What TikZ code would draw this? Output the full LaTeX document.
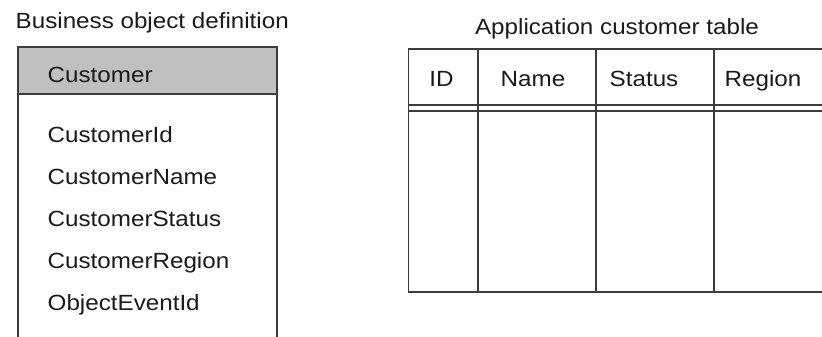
\documentclass[tikz,border=0pt]{standalone}
\usepackage{fontspec}
\setmainfont{Liberation Sans}[FakeStretch=1.1]
\usepackage{tikz}
\definecolor{hdrgray}{RGB}{192,192,192}
\definecolor{linegray}{RGB}{60,60,60}
\definecolor{textgray}{RGB}{26,26,26}
\tikzset{
  txt/.style={anchor=base west,inner sep=0pt,text=textgray,font=\fontsize{22}{26}\selectfont},
  ctxt/.style={txt,anchor=base},
  rule/.style={draw=linegray,line width=1.4pt}
}

\begin{document}
\begin{tikzpicture}[x=1pt,y=-1pt]
        \useasboundingbox (0,0) rectangle (822,337);
        % business object
        \node[txt] (botitle) at (15.5,28.5) {Business object definition};
        \draw[rule,fill=hdrgray] (18,47) rectangle (277,94);
        \draw[rule] (18,94) -- (18,337) (277,94) -- (277,337);
        \node[txt] (bohead) at (47.5,82) {Customer};
        \foreach \a [count=\k] in {CustomerId,CustomerName,CustomerStatus,CustomerRegion,ObjectEventId}
          \node[txt] (attr\k) at (47.5,100+42*\k) {\a};
        % application table
        \node[ctxt] (tbtitle) at (617,35) {Application customer table};
        \draw[rule] (822,49) -- (408.5,49) -- (408.5,292) -- (822,292);
        \draw[rule] foreach \x in {478,596,714}{(\x,49) -- (\x,292)};
        \draw[rule] foreach \y in {105,111}{(408.5,\y) -- (822,\y)};
        \node[ctxt] (colid) at (441.5,86.5) {ID};
        \node[ctxt] (colname) at (533,86.5) {Name};
        \node[ctxt] (colstatus) at (644,86.5) {Status};
        \node[ctxt] (colregion) at (763,86.5) {Region};
\end{tikzpicture}
\end{document}
